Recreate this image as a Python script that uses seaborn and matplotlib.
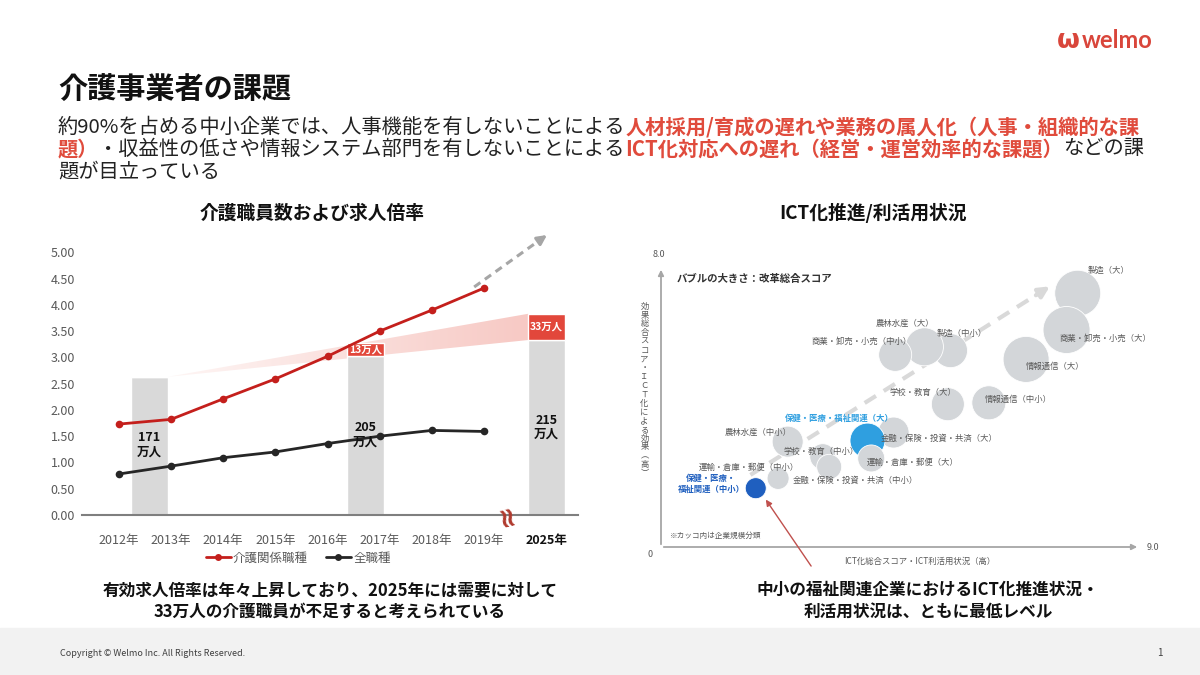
import numpy as np
import pandas as pd
import matplotlib
matplotlib.use("Agg")
import matplotlib.pyplot as plt
from matplotlib.lines import Line2D
from matplotlib.patches import Polygon, Rectangle
from matplotlib.colors import LinearSegmentedColormap
import seaborn as sns

# キャンバス (px)
W, H = 1200, 675
RED = "#e04b3c"
GRAY_TXT = "#595959"

# ---- 左: 有効求人倍率 ----
years = ["2012年", "2013年", "2014年", "2015年", "2016年", "2017年", "2018年", "2019年"]
ratio_care = [1.73, 1.82, 2.21, 2.59, 3.02, 3.50, 3.90, 4.32]
ratio_all = [0.78, 0.93, 1.09, 1.20, 1.36, 1.50, 1.61, 1.59]
series_names = ["介護関係職種", "全職種"]
future_label = "2025年"

# 介護職員数の棒 (位置は年軸上、2025年は省略記号の後ろ)
staff_pos = [0.58, 4.73, 8.2]
staff_height = [2.63, 3.03, 3.33]
shortage_height = [0.0, 0.24, 0.50]
staff_labels = ["171\n万人", "205\n万人", "215\n万人"]
staff_label_y = [1.34, 1.53, 1.67]
shortage_labels = ["", "13万人", "33万人"]

# ---- 右: ICT化推進/利活用状況 ----
ind_names = ["製造（大）", "商業・卸売・小売（大）", "情報通信（大）", "情報通信（中小）",
             "学校・教育（大）", "製造（中小）", "農林水産（大）", "商業・卸売・小売（中小）",
             "金融・保険・投資・共済（大）", "保健・医療・福祉関連（大）", "運輸・倉庫・郵便（大）",
             "学校・教育（中小）", "金融・保険・投資・共済（中小）", "農林水産（中小）",
             "運輸・倉庫・郵便（中小）", "保健・医療・\n福祉関連（中小）"]
ind_x = [7.83, 7.62, 6.86, 6.16, 5.39, 5.44, 4.95, 4.40, 4.37, 3.88, 3.95, 3.04, 3.16, 2.38, 2.20, 1.78]
ind_y = [7.25, 6.20, 5.36, 4.12, 4.08, 5.61, 5.72, 5.49, 3.27, 3.04, 2.53, 2.58, 2.29, 3.01, 1.96, 1.68]
ind_r = [23, 23.5, 23, 17, 16.5, 17, 19, 16.5, 15.5, 17.5, 13.5, 13, 12.5, 15.5, 11, 10.5]   # バブル半径(改革総合スコア)
ind_group = ["other"] * 9 + ["welfare_l"] + ["other"] * 5 + ["welfare_s"]
lab_x = [8.41, 8.35, 7.41, 6.72, 4.93, 5.66, 4.58, 3.77, 5.23, 3.35, 4.73, 3.01, 3.66, 1.83, 1.65, 0.94]
lab_y = [7.89, 5.96, 5.17, 4.22, 4.41, 6.10, 6.39, 5.87, 3.09, 3.67, 2.41, 2.74, 1.89, 3.27, 2.28, 1.80]

body_lines = [
    [("約90%を占める中小企業では、人事機能を有しないことによる", False),
     ("人材採用/育成の遅れや業務の属人化（人事・組織的な課", True)],
    [("題）", True), ("・収益性の低さや情報システム部門を有しないことによる", False),
     ("ICT化対応への遅れ（経営・運営効率的な課題）", True), ("などの課", False)],
    [("題が目立っている", False)],
]

sns.set_style("white")
plt.rcParams["font.family"] = ["Noto Sans CJK JP", "DejaVu Sans"]


def fx(px):
    return px / W


def fy(py):
    return 1 - py / H


fig = plt.figure(figsize=(W / 100, H / 100), dpi=100)
fig.patch.set_facecolor("white")
renderer = fig.canvas.get_renderer()

# ---- ヘッダー ----
fig.text(fx(58), fy(89), "介護事業者の課題", fontsize=21, fontweight="bold", color="#111111",
         va="center", ha="left")
for i, runs in enumerate(body_lines):
    x = 58
    y = [127, 149, 172][i]
    for txt, hl in runs:
        t = fig.text(fx(x), fy(y), txt, fontsize=14.6, va="center", ha="left",
                     color=RED if hl else "#222222", fontweight="bold" if hl else "normal")
        x += t.get_window_extent(renderer).width

fig.text(fx(1068), fy(41), "ω", fontsize=19, fontweight="bold", color="#d9463b",
         ha="center", va="center", family="DejaVu Sans")
fig.text(fx(1082), fy(41), "welmo", fontsize=17, fontweight="bold", color="#d9463b",
         ha="left", va="center", family="Lato")

# ---- 左チャート ----
fig.text(fx(312), fy(213), "介護職員数および求人倍率", fontsize=13.5, fontweight="bold",
         ha="center", va="center", color="#111111")
ax1 = fig.add_axes([fx(82), fy(515), (577.5 - 82) / W, (515 - 252.3) / H])
BAR_W = 0.71

x0 = staff_pos[0] + BAR_W / 2
x1 = staff_pos[2] - BAR_W / 2
lo0, lo1 = staff_height[0], staff_height[2]
hi0, hi1 = staff_height[0] + shortage_height[0], staff_height[2] + shortage_height[2]
band = Polygon([[x0, lo0], [x1, lo1], [x1, hi1], [x0, hi0]], closed=True, fc="none", ec="none")
ax1.add_patch(band)
cmap = LinearSegmentedColormap.from_list("band", ["#fef6f5", "#f7c9c4"])
im = ax1.imshow(np.linspace(0, 1, 256).reshape(1, -1), extent=[x0, x1, lo0, hi1],
                aspect="auto", cmap=cmap, origin="lower", zorder=1)
im.set_clip_path(band)

ax1.bar(staff_pos, staff_height, width=BAR_W, color="#d9d9d9", zorder=2)
ax1.bar(staff_pos, shortage_height, bottom=staff_height, width=BAR_W, color="#e2473b", zorder=2)
for p, h, s, lab in zip(staff_pos, staff_height, shortage_height, shortage_labels):
    if lab:
        ax1.text(p, h + s / 2, lab, color="white", fontsize=7.5, fontweight="bold",
                 ha="center", va="center", zorder=3)
for p, lab, ly in zip(staff_pos, staff_labels, staff_label_y):
    ax1.text(p, ly, lab, color="#111111", fontsize=9, fontweight="bold", ha="center",
             va="center", linespacing=1.15, zorder=5)

df = pd.DataFrame({
    "x": list(range(len(years))) * 2,
    "ratio": ratio_care + ratio_all,
    "series": [series_names[0]] * len(years) + [series_names[1]] * len(years),
})
palette = {series_names[0]: "#c41f1c", series_names[1]: "#262626"}
sns.lineplot(data=df, x="x", y="ratio", hue="series", palette=palette, marker="o",
             markersize=5.5, markeredgewidth=0, linewidth=2, legend=False, ax=ax1, zorder=4)

# 2019 → 2025 の破線矢印
ax1.plot([6.81, 8.05], [4.34, 5.22], color="#a6a6a6", lw=2.2, ls=(0, (2.5, 1.8)),
         clip_on=False, zorder=3)
ax1.annotate("", xy=(8.25, 5.36), xytext=(8.02, 5.20),
             arrowprops=dict(arrowstyle="-|>", color="#a6a6a6", lw=2.2, mutation_scale=14),
             annotation_clip=False)

ax1.text(7.4, 0.02, "≈", rotation=105, fontsize=20, fontweight="bold", color="#b03a2e",
         ha="center", va="center", zorder=6, family="DejaVu Sans")

ax1.set_xlim(-0.705, 8.79)
ax1.set_ylim(0, 5)
ax1.set_xticks(list(range(len(years))) + [staff_pos[2]])
ax1.set_xticklabels(years + [future_label])
ax1.set_yticks(np.arange(0, 5.01, 0.5))
ax1.set_yticklabels([f"{v:.2f}" for v in np.arange(0, 5.01, 0.5)])
ax1.tick_params(axis="x", length=0, labelsize=9, colors=GRAY_TXT, pad=14)
ax1.tick_params(axis="y", length=0, labelsize=9, colors=GRAY_TXT, pad=5)
lab2025 = ax1.get_xticklabels()[-1]
lab2025.set_color("#111111")
lab2025.set_fontweight("bold")
ax1.set_xlabel("")
ax1.set_ylabel("")
for side in ["left", "top", "right"]:
    ax1.spines[side].set_visible(False)
ax1.spines["bottom"].set_color("#7f7f7f")
ax1.spines["bottom"].set_linewidth(1.5)
ax1.set_facecolor("none")

handles = [Line2D([], [], color=palette[n], lw=2, marker="o", markersize=5, mew=0)
           for n in series_names]
ax1.legend(handles, series_names, loc="center", bbox_to_anchor=(0.436, -0.164), ncol=2,
           frameon=False, fontsize=9, handlelength=2.0, handletextpad=0.2, columnspacing=1.4,
           labelcolor=GRAY_TXT)

# ---- 右チャート ----
fig.text(fx(873), fy(213), "ICT化推進/利活用状況", fontsize=13.5, fontweight="bold",
         ha="center", va="center", color="#111111")
ax2 = fig.add_axes([fx(661), fy(547), (1140 - 661) / W, (547 - 267) / H])
ax2.set_xlim(0, 9)
ax2.set_ylim(0, 8)
ax2.axis("off")

ax2.annotate("", xy=(9, 0), xytext=(0, 0),
             arrowprops=dict(arrowstyle="-|>", color="#a6a6a6", lw=1.3, mutation_scale=8),
             annotation_clip=False)
ax2.annotate("", xy=(0, 8), xytext=(0, 0),
             arrowprops=dict(arrowstyle="-|>", color="#a6a6a6", lw=1.3, mutation_scale=8),
             annotation_clip=False)
ax2.text(-0.2, -0.22, "0", fontsize=6.5, color=GRAY_TXT, ha="center", va="center")
ax2.text(-0.03, 8.35, "8.0", fontsize=6.5, color=GRAY_TXT, ha="center", va="center")
ax2.text(9.25, 0.0, "9.0", fontsize=6.5, color=GRAY_TXT, ha="center", va="center")

# 破線矢印
ax2.plot([1.68, 7.05], [2.06, 7.20], color="#d9d9d9", lw=3, ls=(0, (3.2, 2.2)), zorder=1)
ax2.annotate("", xy=(7.35, 7.49), xytext=(7.0, 7.15),
             arrowprops=dict(arrowstyle="-|>", color="#d9d9d9", lw=3, mutation_scale=16),
             zorder=1)

bdf = pd.DataFrame({"x": ind_x, "y": ind_y, "group": ind_group})
bsizes = [(2 * r * 0.72) ** 2 for r in ind_r]
sns.scatterplot(data=bdf, x="x", y="y", hue="group", s=bsizes, legend=False, ax=ax2,
                palette={"other": "#d3d6d9", "welfare_l": "#2f9fe0", "welfare_s": "#1f5fbf"},
                edgecolor="white", linewidth=0.6, zorder=3, clip_on=False)

for name, lx, ly, g in zip(ind_names, lab_x, lab_y, ind_group):
    if g == "welfare_l":
        kw = dict(color="#2f9fe0", fontweight="bold")
    elif g == "welfare_s":
        kw = dict(color="#1f5fbf", fontweight="bold")
    else:
        kw = dict(color=GRAY_TXT)
    ax2.text(lx, ly, name, fontsize=6, ha="center", va="center", zorder=4,
             linespacing=1.3, **kw)

ax2.text(0.29, 7.65, "バブルの大きさ：改革総合スコア", fontsize=7.5, fontweight="bold",
         color="#333333", ha="left", va="center")
ax2.text(0.16, 0.32, "※カッコ内は企業規模分類", fontsize=5.5, color=GRAY_TXT,
         ha="left", va="center")
ax2.text(4.86, -0.42, "ICT化総合スコア・ICT利活用状況（高）", fontsize=6, color=GRAY_TXT,
         ha="center", va="center")
ylab = "\n".join(list("効果総合スコア・ＩＣＴ化による効果") + ["︵", "高", "︶"])
ax2.text(-0.31, 4.49, ylab, fontsize=6, color=GRAY_TXT, ha="center", va="center",
         linespacing=0.97)

ax2.annotate("", xy=(1.94, 1.42), xytext=(2.85, -0.61),
             arrowprops=dict(arrowstyle="-|>", color="#c0504d", lw=1.0, mutation_scale=9),
             annotation_clip=False)

# ---- まとめ ----
cap_l = ["有効求人倍率は年々上昇しており、2025年には需要に対して", "33万人の介護職員が不足すると考えられている"]
cap_r = ["中小の福祉関連企業におけるICT化推進状況・", "利活用状況は、ともに最低レベル"]
for y, a, b in zip([590, 612], cap_l, cap_r):
    fig.text(fx(330), fy(y), a, fontsize=12, fontweight="bold", ha="center", va="center",
             color="#111111")
    fig.text(fx(928), fy(y), b, fontsize=12, fontweight="bold", ha="center", va="center",
             color="#111111")

# ---- フッター ----
fig.add_artist(Rectangle((0, 0), 1, (H - 628) / H, transform=fig.transFigure,
                         color="#f2f2f2", zorder=0))
fig.text(fx(60), fy(653), "Copyright © Welmo Inc. All Rights Reserved.", fontsize=6.5,
         color="#404040", ha="left", va="center")
fig.text(fx(1160), fy(653), "1", fontsize=7, color="#404040", ha="center", va="center")

fig.savefig("out.png", dpi=100)
